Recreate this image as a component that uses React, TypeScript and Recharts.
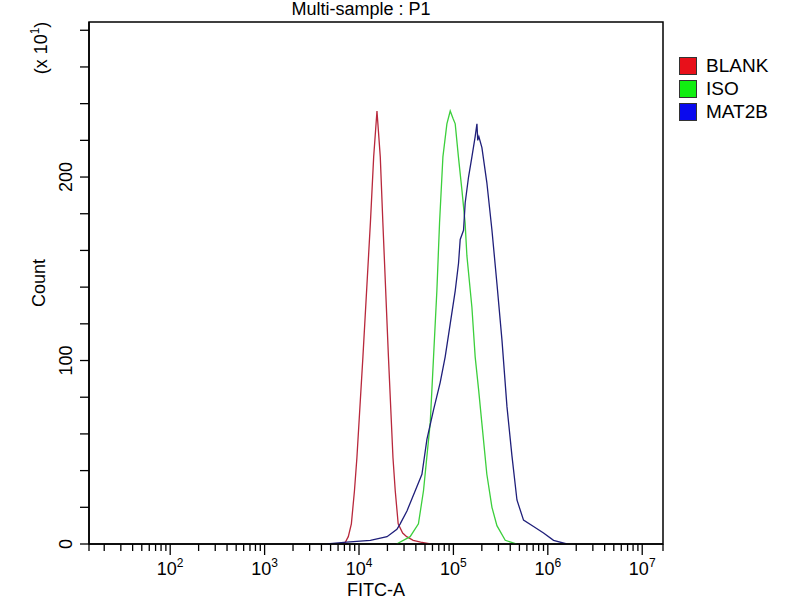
import React from "react";
import { LineChart, Line, XAxis, YAxis, ReferenceArea, Legend, Label } from "recharts";

// FITC-A intensity vs event count (x10)
const blankFitc = [7000, 7700, 8300, 8950, 9500, 11000, 13200, 14300, 15500, 16800, 17900, 20500, 22900, 24200, 26000, 29000, 32000, 37500, 45000, 57000];
const blankCount = [0, 4, 11, 29, 47, 102, 175, 211, 236, 211, 175, 102, 47, 29, 11, 6, 4, 2, 1, 0];

const isoFitc = [25000, 34800, 42600, 48200, 56800, 61600, 66800, 71300, 77400, 85300, 92500, 98900, 104500, 113000, 123000, 133000, 139000, 157000, 170000, 185000, 200000, 226000, 256000, 289000, 354000, 470000];
const isoCount = [0, 4, 11, 29, 66, 102, 138, 175, 211, 229, 236, 232, 229, 211, 193, 175, 157, 129, 102, 84, 66, 38, 20, 10, 2, 0];

const matFitc = [4600, 7400, 13200, 19800, 25200, 27300, 32200, 39400, 46400, 52400, 61500, 72400, 81800, 92500, 104500, 113300, 118000, 128000, 133300, 144600, 157000, 170000, 177500, 181000, 186000, 200400, 226000, 256000, 289000, 327000, 369000, 417000, 471000, 553000, 706000, 901000, 1150000, 1590000];
const matCount = [0, 1, 2, 4, 8, 11, 18, 29, 38, 57, 73, 88, 102, 120, 138, 153, 166, 171, 186, 200, 211, 222, 229, 220, 222, 216, 197, 171, 142, 111, 75, 48, 24, 13, 9.5, 6, 2, 0];

const seriesNames = ["BLANK", "ISO", "MAT2B"];
const lineColors = ["#b8283c", "#3ccf3c", "#1f1f7a"];
const legendColors = ["#e8101a", "#11ee11", "#0a0aee"];

const decades = [2, 3, 4, 5, 6, 7];
const xDomain = [13.8, 1.66e7];
const yMax = 284.5;
const yTicks = [0, 20, 40, 60, 80, 100, 120, 140, 160, 180, 200, 220, 240, 260, 280];
const yLabels = [0, 100, 200];

const toRows = (fitc: number[], count: number[]) => fitc.map((f, i) => ({ fitc: f, count: count[i] }));
const seriesData = [toRows(blankFitc, blankCount), toRows(isoFitc, isoCount), toRows(matFitc, matCount)];

// decade ticks plus 2..9 minor ticks, clipped to the domain
const xTicks: number[] = [xDomain[0]];
[1, 2, 3, 4, 5, 6].forEach((e) => {
  if (e > 1) xTicks.push(Math.pow(10, e));
  for (let m = 2; m <= 9; m++) {
    const v = m * Math.pow(10, e);
    if (v > xDomain[0] && v < xDomain[1]) xTicks.push(v);
  }
});
xTicks.push(Math.pow(10, 7), xDomain[1]);

const XTick = (props: any) => {
  const { x, y, payload } = props;
  const exp = Math.round(Math.log10(payload.value));
  const major = Math.abs(Math.log10(payload.value) - exp) < 1e-9 && decades.includes(exp);
  return (
    <g>
      <line x1={x} x2={x} y1={y} y2={y + (major ? 11 : 7)} stroke="#000" strokeWidth={1.3} />
      {major && (
        <text x={x} y={y + 31} textAnchor="middle" fontSize={18} fill="#000">
          10<tspan dy={-8} fontSize={12}>{exp}</tspan>
        </text>
      )}
    </g>
  );
};

const YTick = (props: any) => {
  const { x, y, payload } = props;
  const v = payload.value;
  return (
    <g>
      <line x1={x - 9} x2={x} y1={y} y2={y} stroke="#000" strokeWidth={1.3} />
      {yLabels.includes(v) && (
        <text x={x - 17} y={y} transform={`rotate(-90 ${x - 17} ${y})`} textAnchor="middle" fontSize={18} fill="#000">
          {v}
        </text>
      )}
    </g>
  );
};

const LegendBox = () => (
  <div style={{ fontFamily: "'Liberation Sans', Arial, sans-serif" }}>
    {seriesNames.map((name, i) => (
      <div key={name} style={{ display: "flex", alignItems: "center", height: 23 }}>
        <div style={{ width: 18, height: 18, boxSizing: "border-box", border: "1px solid #333", background: legendColors[i] }} />
        <span style={{ marginLeft: 9, fontSize: 19, lineHeight: "23px", color: "#000" }}>{name}</span>
      </div>
    ))}
  </div>
);

export default function App() {
  return (
    <div style={{ position: "absolute", left: 0, top: 0, width: 800, height: 600, background: "#fff", fontFamily: "'Liberation Sans', Arial, sans-serif" }}>
      <LineChart width={800} height={600} margin={{ top: 22, right: 137, bottom: 0, left: 0 }}>
        <XAxis
          type="number"
          dataKey="fitc"
          scale="log"
          domain={xDomain}
          allowDataOverflow
          ticks={xTicks}
          interval={0}
          tick={XTick}
          tickLine={false}
          tickSize={0}
          tickMargin={0}
          height={56}
          axisLine={{ stroke: "#000", strokeWidth: 1.5 }}
        >
          <Label
            content={(p: any) => (
              <g>
                <text x={p.viewBox.x + p.viewBox.width / 2} y={596} textAnchor="middle" fontSize={18} fill="#000">FITC-A</text>
                <text x={p.viewBox.x + p.viewBox.width / 2 - 15} y={15} textAnchor="middle" fontSize={18} fill="#000">Multi-sample : P1</text>
              </g>
            )}
          />
        </XAxis>
        <YAxis
          type="number"
          domain={[0, yMax]}
          allowDataOverflow
          ticks={yTicks}
          interval={0}
          tick={YTick}
          tickLine={false}
          tickSize={0}
          tickMargin={0}
          width={89}
          axisLine={{ stroke: "#000", strokeWidth: 1.5 }}
        >
          <Label
            content={() => (
              <g>
                <text x={45} y={283} transform="rotate(-90 45 283)" textAnchor="middle" fontSize={18} fill="#000">Count</text>
                <text x={47} y={48} transform="rotate(-90 47 48)" textAnchor="middle" fontSize={18} fill="#000">
                  (x 10<tspan dy={-8} fontSize={12}>1</tspan><tspan dy={8}>)</tspan>
                </text>
              </g>
            )}
          />
        </YAxis>
        <ReferenceArea x1={xDomain[0]} x2={xDomain[1]} y1={0} y2={yMax} fill="none" stroke="#000" strokeWidth={1.5} />
        {seriesNames.map((name, i) => (
          <Line
            key={name}
            data={seriesData[i]}
            dataKey="count"
            name={name}
            type="linear"
            stroke={lineColors[i]}
            strokeWidth={1.3}
            dot={false}
            isAnimationActive={false}
          />
        ))}
        <Legend
          layout="vertical"
          align="center"
          verticalAlign="middle"
          content={LegendBox}
          wrapperStyle={{ left: 679, top: 54, width: 120 }}
        />
      </LineChart>
    </div>
  );
}
